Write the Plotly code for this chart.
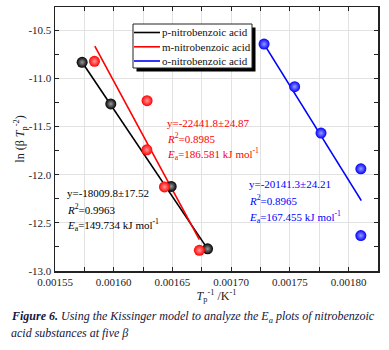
import plotly.graph_objects as go

# ---- data ----
series_names = ["p-nitrobenzoic acid", "m-nitrobenzoic acid", "o-nitrobenzoic acid"]
series_colors = ["#000000", "#ff0000", "#0000ff"]
series_glow = ["#9a9a9a", "#ff9a9a", "#9a9aff"]

p_x = [0.0015731, 0.0015975, 0.0016489, 0.0016799]
p_y = [-10.834, -11.266, -12.122, -12.770]
m_x = [0.0015836, 0.0016284, 0.0016282, 0.0016432, 0.0016729]
m_y = [-10.824, -11.232, -11.742, -12.128, -12.785]
o_x = [0.0017280, 0.0017540, 0.0017765, 0.0018104, 0.0018104]
o_y = [-10.645, -11.087, -11.569, -11.939, -12.632]

# fitted lines (end points)
p_fit_x = [0.0015731, 0.0016799]
p_fit_y = [-10.834, -12.770]
m_fit_x = [0.0015839, 0.0016729]
m_fit_y = [-10.666, -12.674]
o_fit_x = [0.0017280, 0.0018108]
o_fit_y = [-10.645, -12.270]

p_text = ["y=-18009.8±17.52", "<i>R</i><sup>2</sup>=0.9963", "<i>E</i><sub>a</sub>=149.734 kJ mol<sup>-1</sup>"]
m_text = ["y=-22441.8±24.87", "<i>R</i><sup>2</sup>=0.8985", "<i>E</i><sub>a</sub>=186.581 kJ mol<sup>-1</sup>"]
o_text = ["y=-20141.3±24.21", "<i>R</i><sup>2</sup>=0.8965", "<i>E</i><sub>a</sub>=167.455 kJ mol<sup>-1</sup>"]

x_tickvals = [0.00155, 0.00160, 0.00165, 0.00170, 0.00175, 0.00180]
x_ticktext = ["0.00155", "0.00160", "0.00165", "0.00170", "0.00175", "0.00180"]
y_tickvals = [-10.5, -11.0, -11.5, -12.0, -12.5, -13.0]
y_ticktext = ["-10.5", "-11.0", "-11.5", "-12.0", "-12.5", "-13.0"]

caption_1 = "<b>Figure 6.</b> Using the Kissinger model to analyze the <i>E</i><sub>a</sub> plots of nitrobenzoic"
caption_2 = "acid substances at five β"

# ---- figure ----
FONT = "Liberation Serif"
W, H = 389, 350
ML, MR, MT, MB = 55, 11, 7, 79
PW, PH = W - ML - MR, H - MT - MB
XR = [0.00155, 0.001825]
YR = [-13.0, -10.26]

def px_x(p):
    return (p - ML) / PW

def px_y(p):
    return (H - MB - p) / PH

fig = go.Figure()

fits = [(p_fit_x, p_fit_y), (m_fit_x, m_fit_y), (o_fit_x, o_fit_y)]
pts = [(p_x, p_y), (m_x, m_y), (o_x, o_y)]
for i in range(3):
    fig.add_trace(go.Scatter(
        x=fits[i][0], y=fits[i][1], mode="lines", name=series_names[i],
        line=dict(color=series_colors[i], width=1.6), showlegend=False))
for i in range(3):
    fig.add_trace(go.Scatter(
        x=pts[i][0], y=pts[i][1], mode="markers", name=series_names[i],
        showlegend=False,
        marker=dict(color=series_colors[i], size=11, line=dict(width=0),
                    gradient=dict(type="radial", color=series_glow[i]))))

axis_common = dict(
    showline=True, linecolor="#222222", linewidth=1.5, mirror="ticks",
    ticks="inside", ticklen=4, tickcolor="#222222", tickwidth=1,
    tickfont=dict(family=FONT, size=11, color="#222222"),
    zeroline=False, gridcolor="#e2e2e2", gridwidth=1, automargin=False,
)

fig.update_xaxes(
    range=XR, tickmode="array", tickvals=x_tickvals, ticktext=x_ticktext,
    minor=dict(dtick=0.000025, tick0=0.00155, ticks="inside", ticklen=4,
               tickcolor="#222222", showgrid=True, gridcolor="#e2e2e2"),
    title=dict(text="<i>T</i><sub>p</sub><sup>-1</sup> /K<sup>-1</sup>",
               font=dict(family=FONT, size=12, color="#222222"), standoff=2),
    **axis_common)
fig.update_yaxes(
    range=YR, tickmode="array", tickvals=y_tickvals, ticktext=y_ticktext,
    minor=dict(dtick=0.25, tick0=-13.0, ticks="inside", ticklen=4,
               tickcolor="#222222", showgrid=False),
    title=dict(text="ln (β <i>T</i><sub>p</sub><sup>-2</sup>)",
               font=dict(family=FONT, size=12, color="#222222"), standoff=0),
    **axis_common)

annotations = []
text_groups = [
    (p_text, 67, [193.3, 209.3, 225.3], series_colors[0]),
    (m_text, 167, [122.7, 138.3, 154.0], series_colors[1]),
    (o_text, 249, [184.3, 200.0, 216.7], series_colors[2]),
]
for lines, xl, ys, col in text_groups:
    for t, yy in zip(lines, ys):
        annotations.append(dict(
            text=t, xref="paper", yref="paper", x=px_x(xl - 2), y=px_y(yy),
            xanchor="left", yanchor="middle", showarrow=False,
            font=dict(family=FONT, size=11, color=col)))

# legend drawn by hand (compact box with drop shadow)
LEG_L, LEG_T, LEG_R, LEG_B = 133, 24, 252, 68
leg_rows = [32.5, 46.8, 61.0]
shapes = [
    dict(type="rect", xref="paper", yref="paper",
         x0=px_x(LEG_L + 3.5), x1=px_x(LEG_R + 3.5), y0=px_y(LEG_B + 3.5), y1=px_y(LEG_T + 3.5),
         fillcolor="#000000", line=dict(width=0), layer="above"),
    dict(type="rect", xref="paper", yref="paper",
         x0=px_x(LEG_L), x1=px_x(LEG_R), y0=px_y(LEG_B), y1=px_y(LEG_T),
         fillcolor="white", line=dict(color="#222222", width=1), layer="above"),
]
for name, col, ry in zip(series_names, series_colors, leg_rows):
    shapes.append(dict(type="line", xref="paper", yref="paper",
                       x0=px_x(LEG_L + 1), x1=px_x(LEG_L + 27), y0=px_y(ry), y1=px_y(ry),
                       line=dict(color=col, width=1.6), layer="above"))
    annotations.append(dict(
        text=name, xref="paper", yref="paper", x=px_x(LEG_L + 27), y=px_y(ry),
        xanchor="left", yanchor="middle", showarrow=False,
        font=dict(family=FONT, size=11, color="#111111")))

annotations.append(dict(
    text="<i>" + caption_1 + "</i>", xref="paper", yref="paper",
    x=px_x(9), y=px_y(316.5), xanchor="left", yanchor="middle", showarrow=False,
    font=dict(family=FONT, size=12.0, color="#16163a")))
annotations.append(dict(
    text="<i>" + caption_2 + "</i>", xref="paper", yref="paper",
    x=px_x(9), y=px_y(332.5), xanchor="left", yanchor="middle", showarrow=False,
    font=dict(family=FONT, size=12.0, color="#16163a")))

fig.update_layout(
    width=W, height=H,
    margin=dict(l=ML, r=MR, t=MT, b=MB, pad=0, autoexpand=False),
    paper_bgcolor="white", plot_bgcolor="white",
    font=dict(family=FONT, size=11, color="#222222"),
    showlegend=False, hovermode=False,
    annotations=annotations, shapes=shapes,
)

fig.write_html(
    "out.html",
    config={"displayModeBar": False, "staticPlot": True},
    post_script="document.body.style.margin='0';document.body.style.padding='0';",
)
